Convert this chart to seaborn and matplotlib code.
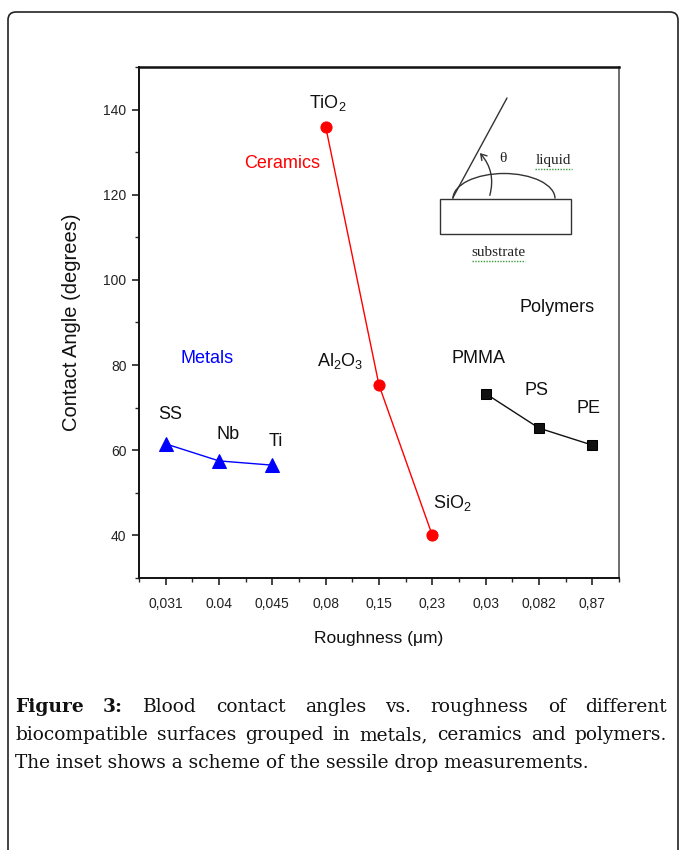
import numpy as np
import pandas as pd
import matplotlib
matplotlib.use("Agg")
import matplotlib.pyplot as plt
import seaborn as sns
from matplotlib.patches import FancyBboxPatch, Rectangle, Arc, FancyArrowPatch

# ---------------- data ----------------
tick_labels = ["0,031", "0.04", "0,045", "0,08", "0,15", "0,23", "0,03", "0,082", "0,87"]

metal_names = ["SS", "Nb", "Ti"]
metal_x = ["0,031", "0.04", "0,045"]
metal_angle = [61.5, 57.5, 56.5]

ceramic_names = ["TiO$_2$", "Al$_2$O$_3$", "SiO$_2$"]
ceramic_x = ["0,08", "0,15", "0,23"]
ceramic_angle = [136.0, 75.3, 40.0]

polymer_names = ["PMMA", "PS", "PE"]
polymer_x = ["0,03", "0,082", "0,87"]
polymer_angle = [73.3, 65.2, 61.2]

group_names = ["Metals", "Ceramics", "Polymers"]

# ---------------- style ----------------
sns.set_theme(style="ticks")
plt.rcParams["font.family"] = ["Liberation Sans", "DejaVu Sans"]
plt.rcParams["mathtext.fontset"] = "custom"
plt.rcParams["mathtext.rm"] = "Liberation Sans"
plt.rcParams["mathtext.it"] = "Liberation Sans:italic"

fig = plt.figure(figsize=(6.8, 8.5), dpi=100)
ax = fig.add_axes([139 / 680, 1 - 578 / 850, 480 / 680, 511 / 850])


def pos(labels):
    return [tick_labels.index(l) for l in labels]


df_m = pd.DataFrame({"x": pos(metal_x), "y": metal_angle})
df_c = pd.DataFrame({"x": pos(ceramic_x), "y": ceramic_angle})
df_p = pd.DataFrame({"x": pos(polymer_x), "y": polymer_angle})

sns.lineplot(data=df_m, x="x", y="y", ax=ax, color="#0000ff", lw=1.0,
             marker="^", markersize=10, markeredgecolor="#0000ff")
sns.lineplot(data=df_c, x="x", y="y", ax=ax, color="#ff0000", lw=1.0,
             marker="o", markersize=8, markeredgecolor="#ff0000")
sns.lineplot(data=df_p, x="x", y="y", ax=ax, color="#111111", lw=1.0,
             marker="s", markersize=7, markeredgecolor="#000000")

ax.set_xlim(-0.5, 8.5)
ax.set_ylim(30, 150)
ax.set_xticks(range(len(tick_labels)))
ax.set_xticklabels(tick_labels)
ax.set_xticks(np.arange(-0.5, 8.6, 1.0), minor=True)
ax.set_yticks([40, 60, 80, 100, 120, 140])
ax.set_yticks(np.arange(30, 151, 10), minor=True)
ax.tick_params(axis="both", which="major", direction="out", length=5, width=1.2,
               labelsize=10, colors="#222222", top=False, right=False)
ax.tick_params(axis="both", which="minor", direction="out", length=3, width=1.0,
               top=False, right=False)
ax.tick_params(axis="x", pad=9)
ax.tick_params(axis="y", pad=4)
for s in ["left", "bottom"]:
    ax.spines[s].set_linewidth(1.4)
    ax.spines[s].set_color("#111111")
ax.spines["top"].set_visible(True)
ax.spines["right"].set_visible(True)
ax.spines["top"].set_linewidth(1.8)
ax.spines["top"].set_color("#111111")
ax.spines["right"].set_linewidth(1.2)
ax.spines["right"].set_color("#555555")

ax.set_xlabel("Roughness (\u03bcm)", fontsize=12.5, labelpad=14, color="#111111")
ax.set_ylabel("Contact Angle (degrees)", fontsize=14.5, labelpad=16, color="#111111")

# point labels
offsets = {
    "SS": (5, 29), "Nb": (9, 26), "Ti": (3, 24),
    "TiO$_2$": (2, 24), "Al$_2$O$_3$": (-39, 24), "SiO$_2$": (20, 32),
    "PMMA": (-7, 35), "PS": (-3, 38), "PE": (-4, 37),
}
for names, xs, ys in [(metal_names, metal_x, metal_angle),
                      (ceramic_names, ceramic_x, ceramic_angle),
                      (polymer_names, polymer_x, polymer_angle)]:
    for n, xl, yv in zip(names, pos(xs), ys):
        ax.annotate(n, (xl, yv), xytext=offsets[n], textcoords="offset pixels",
                    ha="center", va="center", fontsize=13, color="#111111")

# group labels
ax.text(0.77, 81.6, group_names[0], color="#0000ff", fontsize=13, ha="center", va="center")
ax.text(2.19, 127.3, group_names[1], color="#ff0000", fontsize=13, ha="center", va="center")
ax.text(7.34, 93.6, group_names[2], color="#111111", fontsize=13, ha="center", va="center")

# ---------------- overlay (pixel coordinates) ----------------
ov = fig.add_axes([0, 0, 1, 1], zorder=5)
ov.set_xlim(0, 680)
ov.set_ylim(850, 0)
ov.axis("off")
ov.patch.set_alpha(0)

# outer frame
ov.add_patch(FancyBboxPatch((8, 12), 670, 850, boxstyle="round,pad=0,rounding_size=8",
                            fill=False, ec="#222222", lw=1.2, clip_on=False))

# inset scheme
ov.add_patch(Rectangle((439.5, 198.5), 131.5, 35.5, fill=False, ec="#333333", lw=1.0))
ov.add_patch(Arc((504, 198.5), 102, 50, theta1=180, theta2=360, ec="#333333", lw=1.0))
ov.plot([452.7, 507], [198, 98], color="#333333", lw=1.0)
ov.add_patch(FancyArrowPatch((489, 198), (478, 151), connectionstyle="arc3,rad=0.3",
                             arrowstyle="->,head_length=4,head_width=2.5",
                             color="#333333", lw=1.0))
ov.text(503, 158, "\u03b8", fontsize=11, family="Liberation Serif", ha="center",
        va="center", color="#222222")
ov.text(553, 160, "liquid", fontsize=11, family="Liberation Serif", ha="center",
        va="center", color="#222222")
ov.text(498, 252, "substrate", fontsize=11, family="Liberation Serif", ha="center",
        va="center", color="#222222")
ov.plot([535, 572], [169, 169], color="#3a9a3a", lw=1.0, ls=(0, (1, 1)))
ov.plot([472, 525], [261, 261], color="#3a9a3a", lw=1.0, ls=(0, (1, 1)))

# ---------------- caption (justified) ----------------
fig.canvas.draw()
renderer = fig.canvas.get_renderer()
serif = "DejaVu Serif"


def width_of(t):
    bb = t.get_window_extent(renderer=renderer)
    return bb.width


line3 = "The inset shows a scheme of the sessile drop measurements."
probe = ov.text(0, 0, line3, fontsize=12, family=serif)
w12 = width_of(probe)
probe.remove()
fs = 12 * 573 / w12

x0, x1 = 15, 667


def justify(words, y, bold_first=0):
    arts = []
    for i, w in enumerate(words):
        t = ov.text(0, y, w, fontsize=fs, family=serif, va="baseline", ha="left",
                    color="#111111", fontweight="bold" if i < bold_first else "normal")
        arts.append(t)
    ws = [width_of(t) for t in arts]
    gap = (x1 - x0 - sum(ws)) / (len(words) - 1)
    x = x0
    for t, w in zip(arts, ws):
        t.set_x(x)
        x += w + gap


justify(["Figure", "3:", "Blood", "contact", "angles", "vs.", "roughness", "of", "different"], 712,
        bold_first=2)
justify("biocompatible surfaces grouped in metals, ceramics and polymers.".split(), 740)
ov.text(x0, 768, line3, fontsize=fs, family=serif, va="baseline", ha="left", color="#111111")

fig.savefig("out.png", dpi=100)
